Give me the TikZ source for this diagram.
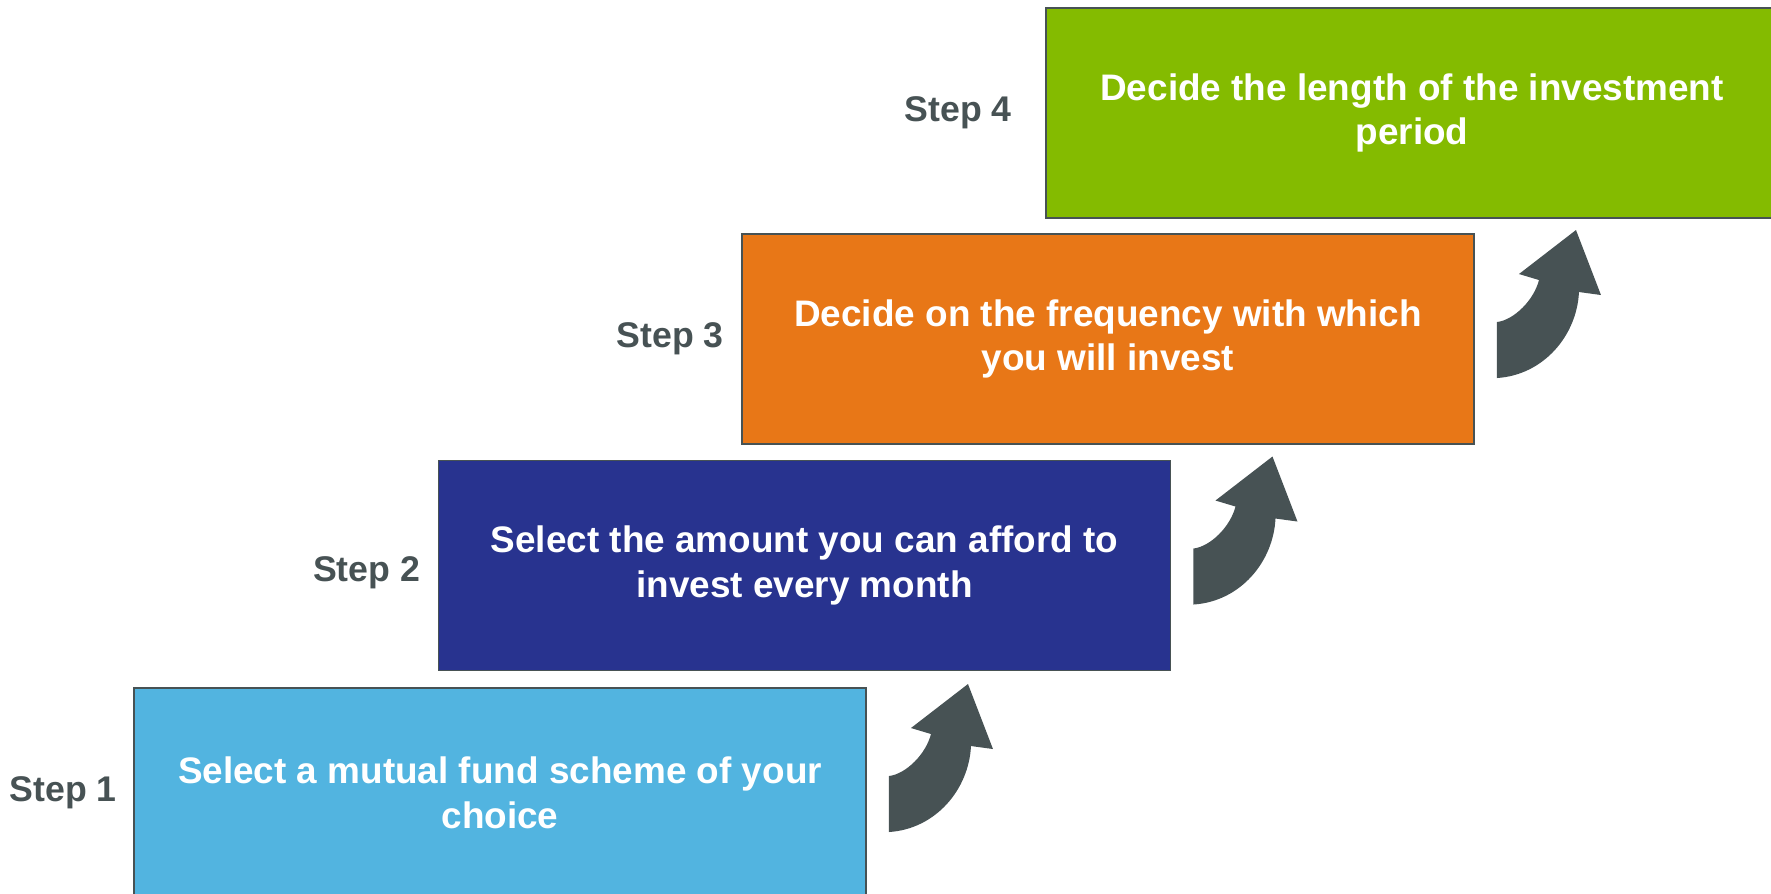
\documentclass[tikz,border=0pt]{standalone}
\usepackage{fontspec}
\setmainfont{Liberation Sans}
\usetikzlibrary{positioning}
\usepackage{xcolor}
\newcommand{\StepFont}{\fontsize{20.3}{24}\selectfont\bfseries}
\newcommand{\BoxFont}{\fontsize{21}{25.5}\selectfont\bfseries}
\definecolor{stepblue}{HTML}{52B4E0}
\definecolor{stepnavy}{HTML}{28338F}
\definecolor{steporange}{HTML}{E87717}
\definecolor{stepgreen}{HTML}{84BB00}
\definecolor{darkgray}{HTML}{475254}
% curved arrow, drawn from the north east corner of a box
\newcommand{\StepArrow}[1]{%
  \fill[darkgray, shift={(#1)}] (0.44,-2.90) .. controls (1.38,-2.84) and (2.04,-2.04) .. (2.08,-1.18)
    -- (2.52,-1.24) -- (2.02,0.06) -- (0.88,-0.82) -- (1.28,-0.94)
    .. controls (1.18,-1.34) and (0.78,-1.74) .. (0.44,-1.78) -- cycle;}

\begin{document}
\begin{tikzpicture}[
  stepbox/.style={draw=darkgray, line width=1.1pt, minimum width=14.64cm, minimum height=4.2cm,
    align=center, text=white, font=\BoxFont, inner sep=0pt},
  steplabel/.style={text=darkgray, font=\StepFont, inner sep=0pt}]
  \useasboundingbox (0,0) rectangle (35.42,17.86);
  \node[stepbox, fill=stepblue]   (B1) at (10.00, 2.00)  {Select a mutual fund scheme of your\\choice};
  \node[stepbox, fill=stepnavy]   (B2) at (16.09, 6.55)  {Select the amount you can afford to\\invest every month};
  \node[stepbox, fill=steporange] (B3) at (22.16, 11.08) {Decide on the frequency with which\\you will invest};
  \node[stepbox, fill=stepgreen]  (B4) at (28.24, 15.60) {Decide the length of the investment\\period};
  \node[steplabel, left=0.32cm of B1] (L1) {Step 1};
  \node[steplabel, left=0.34cm of B2, yshift=-0.14cm] (L2) {Step 2};
  \node[steplabel, left=0.34cm of B3] (L3) {Step 3};
  \node[steplabel, left=0.66cm of B4] (L4) {Step 4};
  \StepArrow{B1.north east}
  \StepArrow{B2.north east}
  \StepArrow{B3.north east}
\end{tikzpicture}
\end{document}
